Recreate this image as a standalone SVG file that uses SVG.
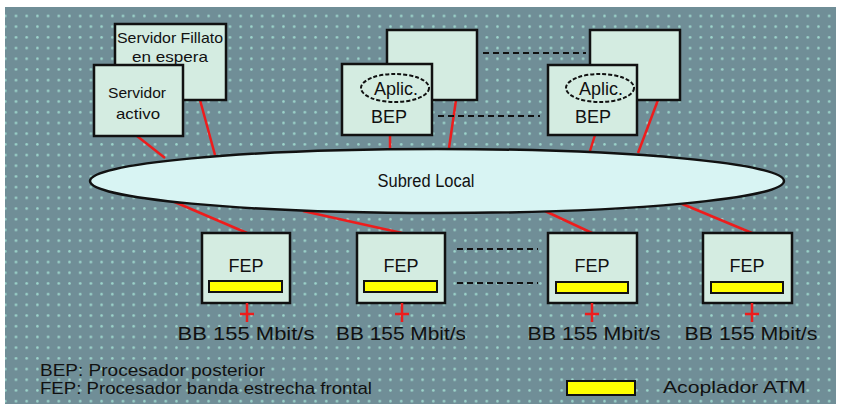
<svg xmlns="http://www.w3.org/2000/svg" width="842" height="410" viewBox="0 0 842 410">
<defs>
<pattern id="bg" width="10.7" height="10.7" patternUnits="userSpaceOnUse">
<rect width="10.7" height="10.7" fill="#708e97"/>
<circle cx="5.3" cy="5.3" r="1.3" fill="#9dd6cc"/>
</pattern>
<style>
.box{fill:#d4ece1;stroke:#111;stroke-width:2.5}
.net{fill:#d8f4f3;stroke:#111;stroke-width:2.5}
.red{stroke:#ee1c1c;stroke-width:2.5;fill:none}
.dash{stroke:#111;stroke-width:2;stroke-dasharray:6,4;fill:none}
.bar{fill:#ffff00;stroke:#111;stroke-width:2}
text{font-family:"Liberation Sans",Arial,sans-serif;fill:#111}
.t{font-size:18px;text-anchor:middle}
.s{font-size:15px;text-anchor:middle}
.l{font-size:17px}
</style>
</defs>
<rect width="842" height="410" fill="#ffffff"/>
<rect x="5" y="7" width="831" height="397" fill="url(#bg)"/>

<g id="connectors">
<line class="red" x1="200" y1="100" x2="215" y2="155"/>
<line class="red" x1="137" y1="136" x2="165" y2="158"/>
<line class="red" x1="390" y1="135" x2="390" y2="148"/>
<line class="red" x1="456" y1="100" x2="449" y2="148"/>
<line class="red" x1="595" y1="135" x2="590" y2="151"/>
<line class="red" x1="658" y1="100" x2="638" y2="153"/>
<line class="red" x1="170" y1="200" x2="247" y2="233"/>
<line class="red" x1="303" y1="211" x2="402" y2="233"/>
<line class="red" x1="545" y1="211" x2="592" y2="233"/>
<line class="red" x1="680" y1="203" x2="752" y2="233"/>
<line class="dash" x1="483" y1="53" x2="586" y2="53"/>
<line class="dash" x1="438" y1="116" x2="540" y2="116"/>
<line class="dash" x1="457" y1="249" x2="538" y2="249"/>
<line class="dash" x1="457" y1="283" x2="538" y2="283"/>
</g>

<g id="servidor-espera">
<rect class="box" x="115" y="24" width="111" height="76"/>
<text class="s" x="170" y="43" textLength="106" lengthAdjust="spacingAndGlyphs">Servidor Fillato</text>
<text class="s" x="170" y="62" textLength="76" lengthAdjust="spacingAndGlyphs">en espera</text>
</g>
<g id="servidor-activo">
<rect class="box" x="94" y="65" width="89" height="71"/>
<text class="s" x="137" y="98" textLength="58" lengthAdjust="spacingAndGlyphs">Servidor</text>
<text class="s" x="138" y="119" textLength="44" lengthAdjust="spacingAndGlyphs">activo</text>
</g>

<g id="bep1-back"><rect class="box" x="387" y="30" width="90" height="70"/></g>
<g id="bep1">
<rect class="box" x="342" y="64" width="90" height="71"/>
<ellipse cx="395" cy="88" rx="34" ry="14" fill="none" stroke="#111" stroke-width="2" stroke-dasharray="4,2"/>
<text class="t" x="396" y="95">Aplic.</text>
<text class="t" x="389" y="123">BEP</text>
</g>
<g id="bep2-back"><rect class="box" x="590" y="30" width="90" height="70"/></g>
<g id="bep2">
<rect class="box" x="548" y="65" width="89" height="70"/>
<ellipse cx="600" cy="88" rx="34" ry="14" fill="none" stroke="#111" stroke-width="2" stroke-dasharray="4,2"/>
<text class="t" x="601" y="95">Aplic.</text>
<text class="t" x="593" y="123">BEP</text>
</g>

<g id="subred">
<ellipse class="net" cx="437" cy="181" rx="347" ry="32"/>
<text class="t" x="426" y="187" textLength="97" lengthAdjust="spacingAndGlyphs">Subred Local</text>
</g>

<g id="fep1">
<rect class="box" x="202" y="233" width="88" height="70"/>
<text class="t" x="246" y="272">FEP</text>
<rect class="bar" x="209" y="281" width="73" height="11"/>
<path class="red" d="M247 303V322M240 314H254"/>
<text class="t" x="246" y="340" textLength="137" lengthAdjust="spacingAndGlyphs">BB 155 Mbit/s</text>
</g>
<g id="fep2">
<rect class="box" x="357" y="233" width="88" height="70"/>
<text class="t" x="401" y="272">FEP</text>
<rect class="bar" x="364" y="281" width="73" height="11"/>
<path class="red" d="M402 303V322M395 314H409"/>
<text class="t" x="401" y="340" textLength="130" lengthAdjust="spacingAndGlyphs">BB 155 Mbit/s</text>
</g>
<g id="fep3">
<rect class="box" x="548" y="233" width="89" height="70"/>
<text class="t" x="592" y="272">FEP</text>
<rect class="bar" x="556" y="282" width="72" height="11"/>
<path class="red" d="M592 303V322M585 314H599"/>
<text class="t" x="594" y="340" textLength="133" lengthAdjust="spacingAndGlyphs">BB 155 Mbit/s</text>
</g>
<g id="fep4">
<rect class="box" x="703" y="233" width="89" height="70"/>
<text class="t" x="747" y="272">FEP</text>
<rect class="bar" x="711" y="282" width="72" height="11"/>
<path class="red" d="M752 303V322M745 314H759"/>
<text class="t" x="751" y="340" textLength="133" lengthAdjust="spacingAndGlyphs">BB 155 Mbit/s</text>
</g>

<g id="legend">
<text class="l" x="40" y="376" textLength="225" lengthAdjust="spacingAndGlyphs">BEP:  Procesador posterior</text>
<text class="l" x="40" y="394" textLength="332" lengthAdjust="spacingAndGlyphs">FEP:  Procesador banda estrecha frontal</text>
<rect class="bar" x="567" y="381" width="68" height="14"/>
<text class="l" x="663" y="393" textLength="143" lengthAdjust="spacingAndGlyphs">Acoplador ATM</text>
</g>
</svg>
